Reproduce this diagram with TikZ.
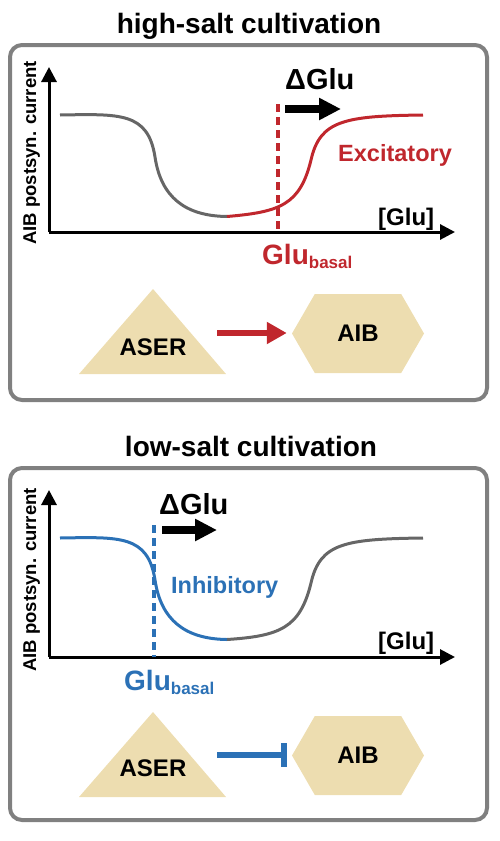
\documentclass[tikz,border=0pt]{standalone}
\usepackage{fontspec}
\setmainfont{Liberation Sans}
\usetikzlibrary{ arrows.meta,    % For the triangle and bar tips
                 shapes.symbols, % For the hexagon (signal) shape
                 positioning,
               }
\definecolor{excred}{RGB}{192,39,45}
\definecolor{inhblue}{RGB}{43,113,182}
\definecolor{neurontan}{RGB}{237,221,176}
\definecolor{panelgray}{RGB}{128,128,128}
\definecolor{curvegray}{RGB}{102,102,102}

\tikzstyle{panel} = [draw=panelgray, line width=4pt, rounded corners=12pt]
\tikzstyle{axisline} = [-{Triangle[length=15pt,width=15pt]}, line width=3pt]
\tikzstyle{curve} = [line width=3pt]
\tikzstyle{basalline} = [line width=4pt, dash pattern=on 8pt off 5pt]
\tikzstyle{glushift} = [-{Triangle[length=22pt,width=21pt]}, line width=8pt]
\tikzstyle{neuron} = [fill=neurontan]
\tikzstyle{hexa} = [signal, signal to=west and east, signal pointer angle=120,
                    fill=neurontan, minimum width=132pt, minimum height=79pt, inner sep=0pt]
\tikzstyle{lbl} = [inner sep=0pt, font=\bfseries]

\begin{document}
\begin{tikzpicture}[x=1pt, y=-1pt]
  \useasboundingbox (0,0) rectangle (499,841);

  % high-salt panel
  \node (titlehigh) [lbl, anchor=base] at (249,33) {\fontsize{28}{30}\selectfont high-salt cultivation};
  \draw [panel] (10,45) rectangle (487,400);

  \coordinate (ohigh) at (49,232);
  \coordinate (xhigh) at (455,232);
  \coordinate (yhigh) at (49,67);
  \draw [axisline] (ohigh) -- (xhigh);
  \draw [axisline] (ohigh) -- (yhigh);
  \node (ylabhigh) [lbl, rotate=90, anchor=base] at (36,153) {\fontsize{18.5}{20}\selectfont AIB postsyn. current};
  \node (xlabhigh) [lbl, anchor=base west] at (378,225) {\fontsize{24}{26}\selectfont [Glu]};

  \draw [curve, curvegray] (60,115) .. controls (120,114) and (148,112) .. (155,157)
        .. controls (161,197) and (185,216) .. (227,216.5);
  \draw [curve, excred] (227,216.5) .. controls (280,212) and (300,205) .. (311,160)
        .. controls (320,120) and (345,116) .. (423,115);

  \coordinate (bhightop) at (278,104);
  \coordinate (bhighbot) at (278,232);
  \draw [basalline, excred] (bhightop) -- (bhighbot);
  \node (basalhigh) [lbl, anchor=base west, text=excred] at (262,264)
        {\fontsize{28}{30}\selectfont Glu\raisebox{-4pt}{\fontsize{17}{18}\selectfont basal}};

  \node (dhigh) [lbl, anchor=base west] at (285,89.5) {\fontsize{29}{31}\selectfont ΔGlu};
  \coordinate (shigh) at (285,109);
  \coordinate (ehigh) at (341,109);
  \draw [glushift] (shigh) -- (ehigh);
  \node (exc) [lbl, anchor=base west, text=excred] at (338,161.7) {\fontsize{23.5}{25}\selectfont Excitatory};

  \fill [neuron] (79,374) -- (153,289) -- (226,374) -- cycle;
  \node (aserhigh) [lbl, anchor=base] at (153,355) {\fontsize{24}{26}\selectfont ASER};
  \node (aibhigh) [hexa] at (358,333.5) {\fontsize{24}{26}\selectfont\bfseries AIB};
  \coordinate (srchigh) at (217,333);
  \draw [excred, line width=5.5pt, -{Triangle[length=20pt,width=21pt]}, shorten >=5pt] (srchigh) -- (srchigh -| aibhigh.west);

  % low-salt panel
  \node (titlelow) [lbl, anchor=base] at (251,456.7) {\fontsize{28}{30}\selectfont low-salt cultivation};
  \draw [panel] (10,468) rectangle (487,820);

  \coordinate (olow) at (49,657);
  \coordinate (xlow) at (455,657);
  \coordinate (ylow) at (49,490);
  \draw [axisline] (olow) -- (xlow);
  \draw [axisline] (olow) -- (ylow);
  \node (ylablow) [lbl, rotate=90, anchor=base] at (36,580) {\fontsize{18.5}{20}\selectfont AIB postsyn. current};
  \node (xlablow) [lbl, anchor=base west] at (378,649) {\fontsize{24}{26}\selectfont [Glu]};

  \draw [curve, inhblue] (60,538) .. controls (120,537) and (148,535) .. (155,580)
        .. controls (161,620) and (185,639) .. (227,639.5);
  \draw [curve, curvegray] (227,639.5) .. controls (280,636) and (300,628) .. (311,583)
        .. controls (320,543) and (345,539) .. (423,538);

  \coordinate (blowtop) at (154,525);
  \coordinate (blowbot) at (154,657);
  \draw [basalline, inhblue] (blowtop) -- (blowbot);
  \node (basallow) [lbl, anchor=base west, text=inhblue] at (124,690.7)
        {\fontsize{28}{30}\selectfont Glu\raisebox{-4pt}{\fontsize{17}{18}\selectfont basal}};

  \node (dlow) [lbl, anchor=base west] at (159,514.3) {\fontsize{29}{31}\selectfont ΔGlu};
  \coordinate (slow) at (162,530);
  \coordinate (elow) at (217,530);
  \draw [glushift] (slow) -- (elow);
  \node (inh) [lbl, anchor=base west, text=inhblue] at (171,593) {\fontsize{23.5}{25}\selectfont Inhibitory};

  \fill [neuron] (79,797) -- (153,712) -- (226,797) -- cycle;
  \node (aserlow) [lbl, anchor=base] at (153,776.7) {\fontsize{24}{26}\selectfont ASER};
  \node (aiblow) [hexa] at (358,755.5) {\fontsize{24}{26}\selectfont\bfseries AIB};
  \coordinate (srclow) at (217,755);
  \draw [inhblue, line width=5.5pt, -{Bar[width=24pt]}, shorten >=5pt] (srclow) -- (srclow -| aiblow.west);

\end{tikzpicture}
\end{document}
